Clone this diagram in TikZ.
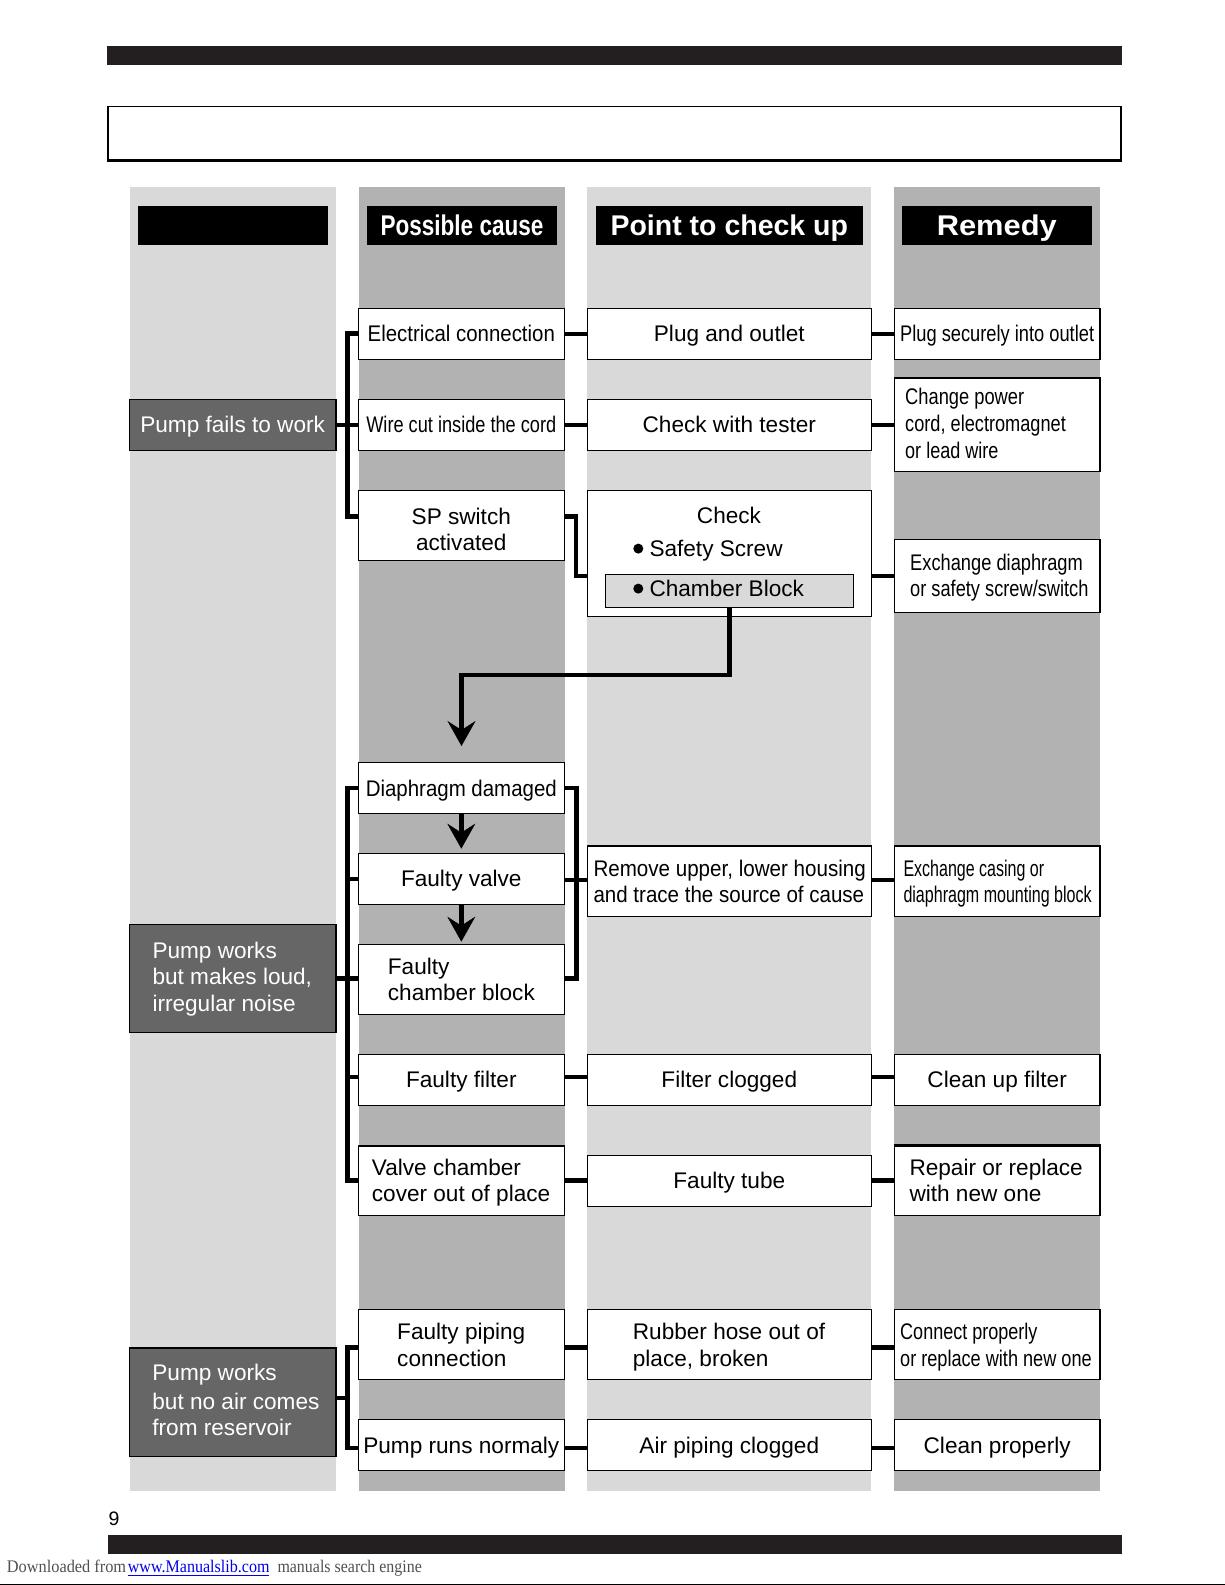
\documentclass[tikz,border=0pt]{standalone}
\usepackage{fontspec}
\setmainfont{Liberation Sans}
\newfontfamily\wmfont{Liberation Serif}
\usepackage{graphicx}
\usetikzlibrary{arrows.meta}
\definecolor{lightcol}{HTML}{D9D9D9}
\definecolor{darkcol}{HTML}{B2B2B2}
\definecolor{probcol}{HTML}{666666}
\definecolor{barcol}{HTML}{231F20}
\definecolor{wmgray}{HTML}{505050}
\definecolor{wmblue}{HTML}{0000EE}
\newcommand\sq[2]{\resizebox{#1pt}{\height}{#2}}
\newcommand\bodyfont{\fontsize{22.6pt}{27pt}\selectfont}
\newcommand\headfont{\fontsize{28.5pt}{32pt}\selectfont\bfseries}
\begin{document}
\begin{tikzpicture}[x=1pt,y=-1pt,
  box/.style={draw=black, line width=1.3pt, fill=white, inner sep=0pt, font=\bodyfont, text height=16.2pt, text depth=0pt},
  prob/.style={box, fill=probcol, text=white},
  hd/.style={fill=black, text=white, inner sep=0pt, font=\headfont, text height=20.4pt, text depth=0pt, minimum height=39pt},
  txt/.style={inner sep=0pt, font=\bodyfont, anchor=base west},
  ctx/.style={inner sep=0pt, font=\bodyfont, anchor=base},
  wtxt/.style={txt, text=white},
  conn/.style={line width=4.5pt, line join=miter, line cap=butt},
  arr/.style={conn, -{Stealth[length=25pt, width=28pt, inset=9pt, line width=0.5pt]}},
]
\useasboundingbox (0,0) rectangle (1225,1585);
% page decoration
\fill[barcol] (107,45.7) rectangle (1121.5,64.7);
\draw[line width=1.2pt] (108,160.7) -- (108,106.7) -- (1121,106.7) -- (1121,160.7);
\draw[line width=2.5pt] (107.4,160.7) -- (1121.6,160.7);
\fill[barcol] (108,1535) rectangle (1121.5,1553.7);
\fill[black] (0,1583.6) rectangle (1225,1585);
\node[anchor=base west, inner sep=0pt, font={\fontsize{19.5pt}{22pt}\selectfont}] (pg) at (108.3,1525.7) {9};
\node[anchor=base west, inner sep=0pt, font={\wmfont\fontsize{17.7pt}{20pt}\selectfont}, text=wmgray] (wm1) at (6.7,1572.3) {\sq{119.3}{Downloaded from}};
\node[anchor=base west, inner sep=0pt, font={\wmfont\fontsize{17.7pt}{20pt}\selectfont}, text=wmblue] (wm2) at (127.7,1572.3) {\sq{141.6}{www.Manualslib.com}};
\node[anchor=base west, inner sep=0pt, font={\wmfont\fontsize{17.7pt}{20pt}\selectfont}, text=wmgray] (wm3) at (277.3,1572.3) {\sq{144.4}{manuals search engine}};
\draw[wmblue, line width=0.8pt] (127.7,1575.8) -- (269.3,1575.8);
% columns
\fill[lightcol] (130,187) rectangle (336,1491);
\fill[darkcol] (359,187) rectangle (565,1491);
\fill[lightcol] (587.3,187) rectangle (871.3,1491);
\fill[darkcol] (894.3,187) rectangle (1100,1491);
% headers
\node[hd, minimum width=190pt] (hd1) at (233,225.5) {};
\node[hd, minimum width=189.4pt] (hd2) at (462,225.5) {\sq{163}{Possible cause}};
\node[hd, minimum width=266.7pt] (hd3) at (729.3,225.5) {Point to check up};
\node[hd, minimum width=189.7pt] (hd4) at (996.8,225.5) {\sq{120}{Remedy}};
% row 1
\node[box, minimum width=206pt, minimum height=51pt] (elec) at (461.3,333.8) {\sq{187.3}{Electrical connection}};
\node[box, minimum width=284pt, minimum height=51pt] (plug) at (729.3,333.8) {Plug and outlet};
\node[box, minimum width=205.7pt, minimum height=51pt] (plugsec) at (997.15,333.8) {\sq{194}{Plug securely into outlet}};
% row 2
\node[prob, minimum width=206.7pt, minimum height=51pt] (pf) at (232.65,424.8) {Pump fails to work};
\node[box, minimum width=206pt, minimum height=51pt] (wire) at (461.3,424.8) {\sq{190}{Wire cut inside the cord}};
\node[box, minimum width=284pt, minimum height=51pt] (tester) at (729.3,424.8) {Check with tester};
\node[box, minimum width=205.7pt, minimum height=92.6pt] (change) at (997.15,425) {};
\draw[line width=2.2pt] (change.north west) -- (change.north east);
\node[txt] (changeA) at (905,404.3) {\sq{119}{Change power}};
\node[txt] (changeB) at (905,431.7) {\sq{160.7}{cord, electromagnet}};
\node[txt] (changeC) at (905,458.3) {\sq{93.3}{or lead wire}};
% row 3
\node[box, minimum width=206pt, minimum height=69.8pt] (sp) at (461.3,525.4) {};
\node[ctx] (spA) at (461.3,524.3) {SP switch};
\node[ctx] (spB) at (461.3,550.7) {activated};
\node[box, minimum width=284pt, minimum height=125.7pt] (check) at (729.3,553.35) {};
\node[box, fill=lightcol, minimum width=248.2pt, minimum height=33pt] (cb) at (729.5,590.8) {};
\node[ctx] (checkA) at (729,523.3) {Check};
\fill (638.3,548.6) circle (5);
\node[txt] (checkB) at (649.3,556.7) {Safety Screw};
\fill (638.3,588.6) circle (5);
\node[txt] (checkC) at (649.3,596.7) {Chamber Block};
\node[box, minimum width=205.7pt, minimum height=73.4pt] (exd) at (997.15,576) {};
\node[txt] (exdA) at (910,570) {\sq{172.7}{Exchange diaphragm}};
\node[txt] (exdB) at (910,596) {\sq{178.3}{or safety screw/switch}};
% row 4-6
\node[box, minimum width=206pt, minimum height=50.6pt] (dia) at (461.3,788) {\sq{191}{Diaphragm damaged}};
\node[box, minimum width=206pt, minimum height=51pt] (fv) at (461.3,878.8) {Faulty valve};
\node[box, minimum width=284pt, minimum height=70.3pt] (rem) at (729.3,881.15) {};
\node[txt] (remA) at (593.3,876.7) {\sq{272.3}{Remove upper, lower housing}};
\node[txt] (remB) at (593.3,902.3) {\sq{270.7}{and trace the source of cause}};
\node[box, minimum width=205.7pt, minimum height=70.3pt] (exc) at (997.15,881.15) {};
\node[txt] (excA) at (903.3,876.7) {\sq{140.7}{Exchange casing or}};
\node[txt] (excB) at (903.3,902.3) {\sq{188.2}{diaphragm mounting block}};
\node[box, minimum width=206pt, minimum height=70pt] (fcb) at (461.3,979.3) {};
\node[txt] (fcbA) at (387.7,974) {Faulty};
\node[txt] (fcbB) at (387.7,1000) {chamber block};
\node[prob, minimum width=206.7pt, minimum height=108pt] (noise) at (232.65,978.3) {};
\node[wtxt] (noiseA) at (152.3,958.3) {Pump works};
\node[wtxt] (noiseB) at (152.3,984.8) {but makes loud,};
\node[wtxt] (noiseC) at (152.3,1011.3) {irregular noise};
% row 7
\node[box, minimum width=206pt, minimum height=51pt] (ff) at (461.3,1079.8) {Faulty filter};
\node[box, minimum width=284pt, minimum height=51pt] (fc) at (729.3,1079.8) {Filter clogged};
\node[box, minimum width=205.7pt, minimum height=51pt] (cuf) at (997.15,1079.8) {Clean up filter};
% row 8
\node[box, minimum width=206pt, minimum height=69.3pt] (vc) at (461.3,1180.65) {};
\node[txt] (vcA) at (371.7,1175) {Valve chamber};
\node[txt] (vcB) at (371.7,1201.7) {cover out of place};
\node[box, minimum width=284pt, minimum height=51pt] (ft) at (729.3,1180.8) {Faulty tube};
\node[box, minimum width=205.7pt, minimum height=69.3pt] (rr) at (997.15,1180.65) {};
\draw[line width=2.2pt] (rr.north west) -- (rr.north east);
\node[txt] (rrA) at (909.3,1175) {Repair or replace};
\node[txt] (rrB) at (909.3,1201) {with new one};
% row 9
\node[box, minimum width=206pt, minimum height=70pt] (fp) at (461.3,1344.3) {};
\node[txt] (fpA) at (397,1339.3) {Faulty piping};
\node[txt] (fpB) at (397,1366) {connection};
\node[box, minimum width=284pt, minimum height=70pt] (rh) at (729.3,1344.3) {};
\node[txt] (rhA) at (632.7,1339.3) {Rubber hose out of};
\node[txt] (rhB) at (632.7,1366) {place, broken};
\node[box, minimum width=205.7pt, minimum height=70pt] (cp) at (997.15,1344.3) {};
\node[txt] (cpA) at (900,1339.3) {\sq{137.3}{Connect properly}};
\node[txt] (cpB) at (900,1366) {\sq{191.5}{or replace with new one}};
\node[prob, minimum width=206.7pt, minimum height=108.7pt] (noair) at (232.65,1402.35) {};
\node[wtxt] (noairA) at (152.2,1380.7) {Pump works};
\node[wtxt] (noairB) at (152.2,1409) {but no air comes};
\node[wtxt] (noairC) at (152.2,1435.7) {from reservoir};
% row 10
\node[box, minimum width=206pt, minimum height=51.2pt] (prn) at (461.3,1444.9) {\sq{196}{Pump runs normaly}};
\node[box, minimum width=284pt, minimum height=51.2pt] (apc) at (729.3,1444.9) {Air piping clogged};
\node[box, minimum width=205.7pt, minimum height=51.2pt] (clp) at (997.15,1444.9) {Clean properly};
% connectors group 1
\coordinate (g1t) at (347.7,333.7);
\coordinate (g1b) at (347.7,516.7);
\draw[conn] (elec.west |- g1t) -- (g1t) -- (g1b) -- (sp.west |- g1b);
\draw[conn] (pf.east) -- (wire.west);
\draw[conn] (elec.east) -- (plug.west);
\draw[conn] (plug.east) -- (plugsec.west);
\draw[conn] (wire.east) -- (tester.west);
\draw[conn] (tester.east) -- (change.west |- tester.east);
\coordinate (spk1) at (575.8,516.7);
\coordinate (spk2) at (575.8,576);
\draw[conn] (sp.east |- spk1) -- (spk1) -- (spk2) -- (check.west |- spk2);
\draw[conn] (check.east |- exd.west) -- (exd.west);
\coordinate (a1) at (729.5,675);
\coordinate (a2) at (461.5,675);
\coordinate (a3) at (461.5,746);
\draw[arr] (cb.south) -- (a1) -- (a2) -- (a3);
\draw[arr, shorten >=4pt] (dia.south) -- (fv.north);
\draw[arr, shorten >=2pt] (fv.south) -- (fcb.north);
% group 2
\coordinate (g2t) at (347.7,788);
\coordinate (g2b) at (347.7,1180.7);
\coordinate (g2m) at (347.7,978.7);
\coordinate (g2f) at (347.7,1077);
\draw[conn] (dia.west |- g2t) -- (g2t) -- (g2b) -- (vc.west |- g2b);
\draw[conn] (g2t |- fv.west) -- (fv.west);
\draw[conn] (noise.east |- g2m) -- (fcb.west |- g2m);
\draw[conn] (g2f) -- (ff.west |- g2f);
\coordinate (r2t) at (576.7,788);
\coordinate (r2b) at (576.7,978.7);
\coordinate (r2m) at (576.7,880);
\draw[conn] (dia.east |- r2t) -- (r2t) -- (r2b) -- (fcb.east |- r2b);
\draw[conn] (fv.east |- r2m) -- (rem.west |- r2m);
\draw[conn] (rem.east |- r2m) -- (exc.west |- r2m);
\draw[conn] (ff.east |- g2f) -- (fc.west |- g2f);
\draw[conn] (fc.east |- g2f) -- (cuf.west |- g2f);
\draw[conn] (vc.east |- g2b) -- (ft.west |- g2b);
\draw[conn] (ft.east |- g2b) -- (rr.west |- g2b);
% group 3
\coordinate (g3t) at (347.5,1347.5);
\coordinate (g3b) at (347.5,1448);
\coordinate (g3m) at (347.5,1398);
\draw[conn] (fp.west |- g3t) -- (g3t) -- (g3b) -- (prn.west |- g3b);
\draw[conn] (noair.east |- g3m) -- (g3m);
\draw[conn] (fp.east |- g3t) -- (rh.west |- g3t);
\draw[conn] (rh.east |- g3t) -- (cp.west |- g3t);
\draw[conn] (prn.east |- g3b) -- (apc.west |- g3b);
\draw[conn] (apc.east |- g3b) -- (clp.west |- g3b);
\end{tikzpicture}
\end{document}
